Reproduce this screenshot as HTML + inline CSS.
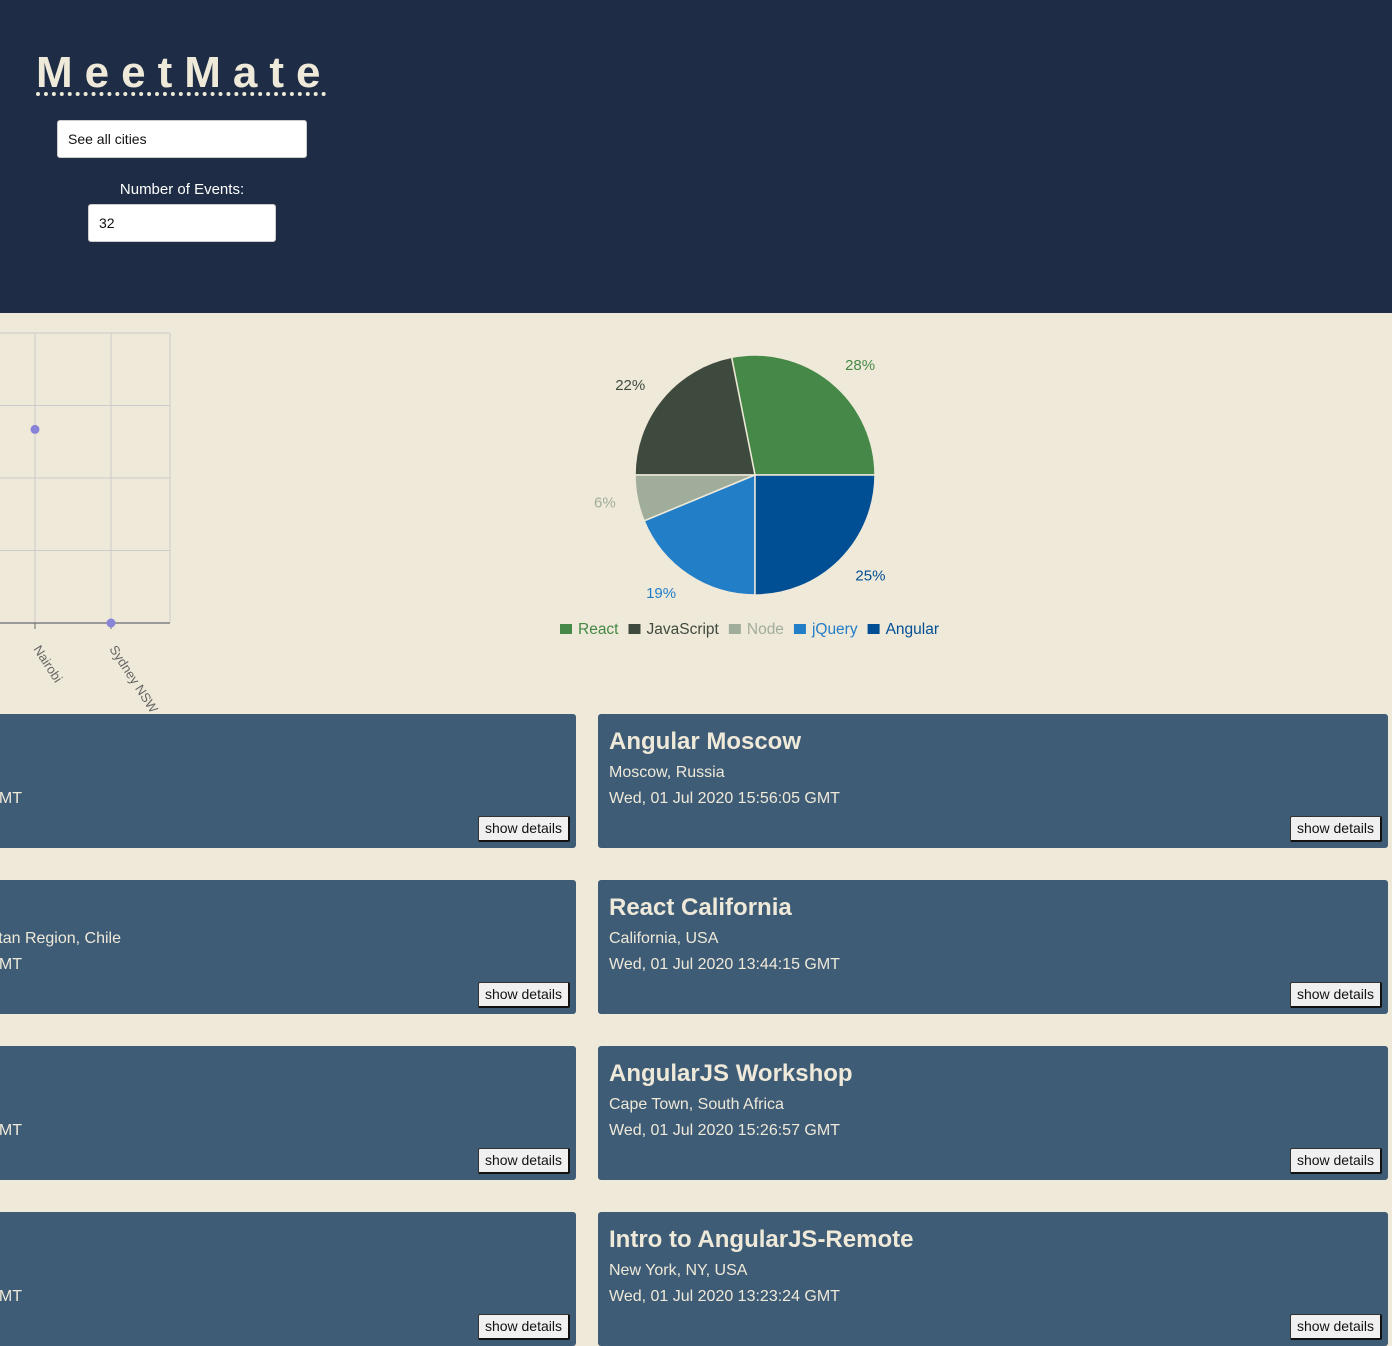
<!DOCTYPE html>
<html><head><meta charset="utf-8">
<style>
*{box-sizing:border-box;margin:0;padding:0}
body{width:1392px;height:1319px;overflow:hidden;background:#efe9d9;font-family:"Liberation Sans","DejaVu Sans",sans-serif;position:relative}
#hdr{position:absolute;left:0;top:0;width:1392px;height:313px;background:#1e2d45}
#logo{position:absolute;left:36px;top:54px;font-size:44px;font-weight:bold;color:#efe9d9;letter-spacing:12px;border-bottom:4px dotted #efe9d9;line-height:38px;padding-bottom:0;width:290px;white-space:nowrap}
.inp{position:absolute;background:#fff;border:1px solid #ccc;border-radius:3px;font-size:14px;color:#111;padding-left:10px;line-height:36px}
.card{position:absolute;background:#3e5c76;border-radius:3px;overflow:hidden;color:#efe9d9}
.card h2{position:absolute;left:11px;top:14px;font-size:24px;font-weight:bold;white-space:nowrap}
.card .t{position:absolute;font-size:16px;white-space:nowrap}
.btn{position:absolute;right:6px;top:102px;height:26px;padding:0 6px;background:#f0f0f0;border:1px solid #333;border-right:2px solid #111;border-bottom:2px solid #111;border-radius:2px;font-size:14px;color:#111;line-height:23px;font-family:"Liberation Sans",sans-serif}
</style></head><body>
<div id="hdr">
 <div id="logo">MeetMate</div>
 <div class="inp" style="left:57px;top:120px;width:250px;height:38px">See all cities</div>
 <div style="position:absolute;left:57px;width:250px;top:181px;text-align:center;color:#fff;font-size:15px">Number of Events:</div>
 <div class="inp" style="left:88px;top:204px;width:188px;height:38px">32</div>
</div>

<svg id="scatter" style="position:absolute;left:0;top:313px" width="300" height="400"></svg>
<svg id="pie" style="position:absolute;left:500px;top:313px" width="520" height="400"></svg>

<div id="cards"></div>

<script>
const NS='http://www.w3.org/2000/svg';
function mk(p,t,a){const e=document.createElementNS(NS,t);for(const k in a)e.setAttribute(k,a[k]);p.appendChild(e);return e;}

// Scatter chart data
const cities=['Nairobi','Sydney NSW'];
const counts=[2.67,0];
const yTicks=[0,1,2,3,4];
const sc=document.getElementById('scatter');
const xPos=i=>35+i*76;
const yPos=v=>310-v*72.5;
yTicks.forEach(t=>{const l=mk(sc,'line',{x1:0,x2:170,y1:yPos(t),y2:yPos(t),stroke:'#ccc'});
});
mk(sc,'line',{x1:170,x2:170,y1:yPos(4),y2:yPos(0),stroke:'#ccc'});
cities.forEach((c,i)=>{const g=mk(sc,'line',{x1:xPos(i),x2:xPos(i),y1:yPos(4),y2:yPos(0),stroke:'#ccc'});
});
mk(sc,'line',{x1:0,x2:170,y1:yPos(0),y2:yPos(0),stroke:'#999','stroke-width':2});
cities.forEach((c,i)=>{
 mk(sc,'line',{x1:xPos(i),x2:xPos(i),y1:yPos(0),y2:yPos(0)+6,stroke:'#666'});
 const t=mk(sc,'text',{x:xPos(i)-2,y:yPos(0)+26,transform:`rotate(57 ${xPos(i)-2} ${yPos(0)+26})`,'font-size':13,fill:'#666','font-family':'Liberation Sans, sans-serif'});
 t.textContent=c;
 
 const d=mk(sc,'circle',{cx:xPos(i),cy:yPos(counts[i]),r:4.5,fill:'#8884d8'});
 
});

// Pie chart data
const genres=['React','JavaScript','Node','jQuery','Angular'];
const genreCounts=[9,7,2,6,8];
const colors=['#458847','#3f4a3f','#a1ad9b','#237ec8','#004f94'];
const pie=document.getElementById('pie');
const cx=255,cy=162,R=120;
const total=genreCounts.reduce((a,b)=>a+b,0);
let a0=0;
genreCounts.forEach((v,i)=>{
 const a1=a0+v/total*2*Math.PI;
 const p=(a)=>[cx+R*Math.cos(a),cy-R*Math.sin(a)];
 const [x0,y0]=p(a0),[x1,y1]=p(a1);
 const large=(a1-a0)>Math.PI?1:0;
 const s=mk(pie,'path',{d:`M${cx},${cy}L${x0},${y0}A${R},${R} 0 ${large} 0 ${x1},${y1}Z`,fill:colors[i],stroke:'#efe9d9','stroke-width':1.5});
 
 const m=(a0+a1)/2,lx=cx+142*Math.cos(m),ly=cy-142*Math.sin(m);
 const t=mk(pie,'text',{x:lx,y:ly+5,'text-anchor':Math.cos(m)>=0?'start':'end','font-size':15,fill:colors[i],'font-family':'Liberation Sans, sans-serif'});
 t.textContent=Math.round(v/total*100)+'%';
 
 a0=a1;
});
// legend
const lg=document.createElementNS(NS,'g');pie.appendChild(lg);

let lx=60;
genres.forEach((g,i)=>{
 mk(lg,'rect',{x:lx,y:311,width:12,height:10,fill:colors[i]});
 const t=mk(lg,'text',{x:lx+18,y:321,'font-size':15.5,fill:colors[i],'font-family':'Liberation Sans, sans-serif'});
 t.textContent=g;
 
 lx+=18+t.getComputedTextLength()+10;
});

// cards
const cardsEl=document.getElementById('cards');
const right=[['Angular Moscow','Moscow, Russia','Wed, 01 Jul 2020 15:56:05 GMT'],
['React California','California, USA','Wed, 01 Jul 2020 13:44:15 GMT'],
['AngularJS Workshop','Cape Town, South Africa','Wed, 01 Jul 2020 15:26:57 GMT'],
['Intro to AngularJS-Remote','New York, NY, USA','Wed, 01 Jul 2020 13:23:24 GMT']];
const leftLoc=[null,'itan Region, Chile',null,null];
[714,880,1046,1212].forEach((top,i)=>{
 const L=document.createElement('div');L.className='card';
 L.style.cssText=`left:-10px;top:${top}px;width:586px;height:134px`;
 
 let h='';
 if(leftLoc[i])h+=`<div class="t" style="right:455px;top:50px">${leftLoc[i]}</div>`;
 h+=`<div class="t" style="right:554px;top:76px">GMT</div>`;
 h+=`<button class="btn">show details</button>`;
 L.innerHTML=h;cardsEl.appendChild(L);
 const Rc=document.createElement('div');Rc.className='card';
 Rc.style.cssText=`left:598px;top:${top}px;width:790px;height:134px`;
 
 Rc.innerHTML=`<h2>${right[i][0]}</h2>
 <div class="t" style="left:11px;top:50px">${right[i][1]}</div>
 <div class="t" style="left:11px;top:76px">${right[i][2]}</div>
 <button class="btn">show details</button>`;
 cardsEl.appendChild(Rc);
});
</script>
</body></html>
